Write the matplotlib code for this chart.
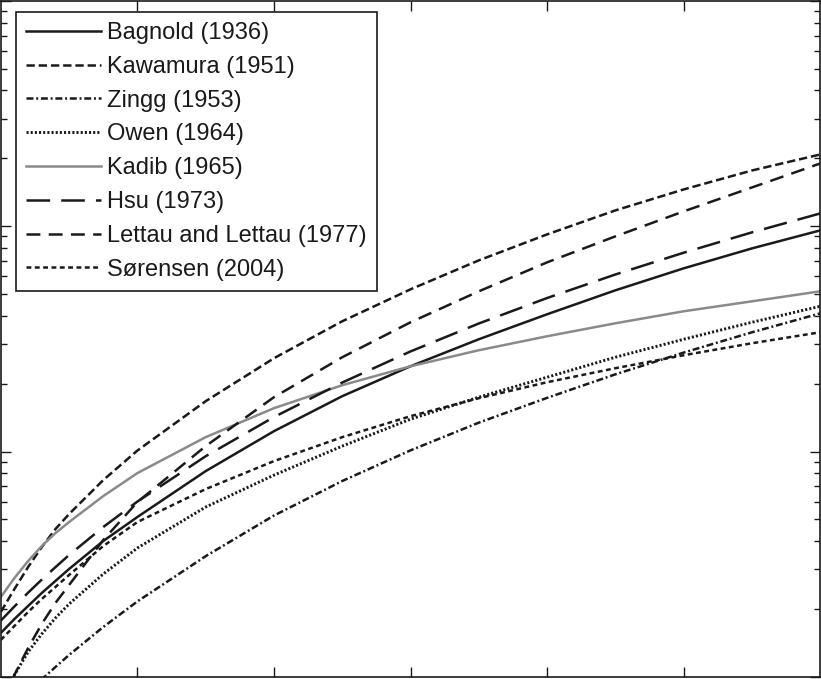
# saltation flux vs shear velocity for several flux relations (log y axis)

import matplotlib
matplotlib.use('Agg')
import matplotlib.pyplot as plt


# data
# ---

# shear velocity (m/s)
u_star = [0.20, 0.21, 0.22, 0.23, 0.24, 0.25, 0.275, 0.30, 0.35, 0.40,
          0.45, 0.50, 0.55, 0.60, 0.65, 0.70, 0.75, 0.80]

# mass flux (kg/m/s)
q_bagnold = [1.568e-3, 1.808e-3, 2.065e-3, 2.358e-3, 2.666e-3, 3.013e-3, 4.009e-3, 5.123e-3, 8.186e-3,
             1.231e-2, 1.760e-2, 2.389e-2, 3.148e-2, 4.063e-2, 5.189e-2, 6.495e-2, 7.963e-2, 9.57e-2]
q_kawamura = [1.943e-3, 2.457e-3, 3.074e-3, 3.771e-3, 4.531e-3, 5.281e-3, 7.469e-3, 1.010e-2, 1.672e-2,
              2.593e-2, 3.783e-2, 5.242e-2, 7.047e-2, 9.188e-2, 0.1174, 0.1454, 0.1765, 0.2078]
q_zingg = [6.41e-4, 7.42e-4, 8.53e-4, 9.75e-4, 1.107e-3, 1.252e-3, 1.666e-3, 2.163e-3, 3.434e-3,
           5.20e-3, 7.40e-3, 1.012e-2, 1.343e-2, 1.730e-2, 2.200e-2, 2.747e-2, 3.379e-2, 4.10e-2]
q_owen = [6.01e-4, 1.022e-3, 1.292e-3, 1.552e-3, 1.827e-3, 2.108e-3, 2.862e-3, 3.733e-3, 5.672e-3,
          7.859e-3, 1.057e-2, 1.392e-2, 1.742e-2, 2.136e-2, 2.620e-2, 3.148e-2, 3.744e-2, 4.408e-2]
q_kadib = [2.264e-3, 2.749e-3, 3.268e-3, 3.809e-3, 4.348e-3, 4.866e-3, 6.345e-3, 8.022e-3, 1.158e-2,
           1.557e-2, 1.969e-2, 2.389e-2, 2.814e-2, 3.246e-2, 3.706e-2, 4.189e-2, 4.638e-2, 5.136e-2]
q_hsu = [1.778e-3, 2.056e-3, 2.366e-3, 2.704e-3, 3.069e-3, 3.475e-3, 4.624e-3, 5.998e-3, 9.53e-3,
         1.422e-2, 2.023e-2, 2.780e-2, 3.698e-2, 4.797e-2, 6.10e-2, 7.62e-2, 9.38e-2, 0.1138]
q_lettau = [7.37e-4, 1.022e-3, 1.345e-3, 1.719e-3, 2.130e-3, 2.559e-3, 4.05e-3, 5.968e-3, 1.057e-2,
            1.742e-2, 2.620e-2, 3.744e-2, 5.136e-2, 6.905e-2, 9.004e-2, 0.1162, 0.1484, 0.1895]
q_sorensen = [1.460e-3, 1.684e-3, 1.943e-3, 2.218e-3, 2.507e-3, 2.834e-3, 3.809e-3, 4.866e-3, 6.814e-3,
              9.07e-3, 1.158e-2, 1.435e-2, 1.724e-2, 2.030e-2, 2.342e-2, 2.674e-2, 3.022e-2, 3.381e-2]

labels = ['Bagnold (1936)', 'Kawamura (1951)', 'Zingg (1953)', 'Owen (1964)',
          'Kadib (1965)', 'Hsu (1973)', 'Lettau and Lettau (1977)', 'Sørensen (2004)']


# plot
# ---

plt.rcParams['font.family'] = ['Liberation Sans', 'DejaVu Sans']
plt.rcParams['lines.scale_dashes'] = False

fig = plt.figure(figsize=(8.21, 6.79), dpi=100)
ax = fig.add_axes([0.001, 0.003, 0.998, 0.996])

black = '#1a1a1a'
lw = 1.8
ax.plot(u_star, q_bagnold, color=black, lw=lw, ls='-', label=labels[0])
ax.plot(u_star, q_kawamura, color=black, lw=lw, ls=(0, (6, 2.8)), label=labels[1])
ax.plot(u_star, q_zingg, color=black, lw=lw, ls=(0, (5, 2, 1.4, 2)), label=labels[2])
ax.plot(u_star, q_owen, color=black, lw=2.1, ls=(0, (1.5, 1.5)), label=labels[3])
ax.plot(u_star, q_kadib, color='#8a8a8a', lw=lw, ls='-', label=labels[4])
ax.plot(u_star, q_hsu, color=black, lw=lw, ls=(0, (17, 8)), label=labels[5])
ax.plot(u_star, q_lettau, color=black, lw=lw, ls=(0, (10, 6)), label=labels[6])
ax.plot(u_star, q_sorensen, color=black, lw=lw, ls=(0, (3.5, 2.5)), label=labels[7])

ax.set_yscale('log')
ax.set_xlim(0.2, 0.8)
ax.set_ylim(1e-3, 1)
ax.set_xticks([0.3, 0.4, 0.5, 0.6, 0.7])

for s in ax.spines.values():
    s.set_linewidth(1.2)
    s.set_color(black)
ax.tick_params(which='both', direction='in', top=True, right=True,
               labelleft=False, labelbottom=False, color=black, width=1)
ax.tick_params(which='major', length=7)
ax.tick_params(which='minor', length=4.3)

leg = ax.legend(loc='upper left', bbox_to_anchor=(15 / 819, 1 - 11 / 676), borderaxespad=0,
                fontsize=17, handlelength=3.15, handletextpad=0.28, labelspacing=0.5,
                borderpad=0.44, fancybox=False, framealpha=1, edgecolor=black)
leg.get_frame().set_linewidth(1.2)
for t in leg.get_texts():
    t.set_color(black)

fig.savefig('out.png', dpi=100)
plt.close()
